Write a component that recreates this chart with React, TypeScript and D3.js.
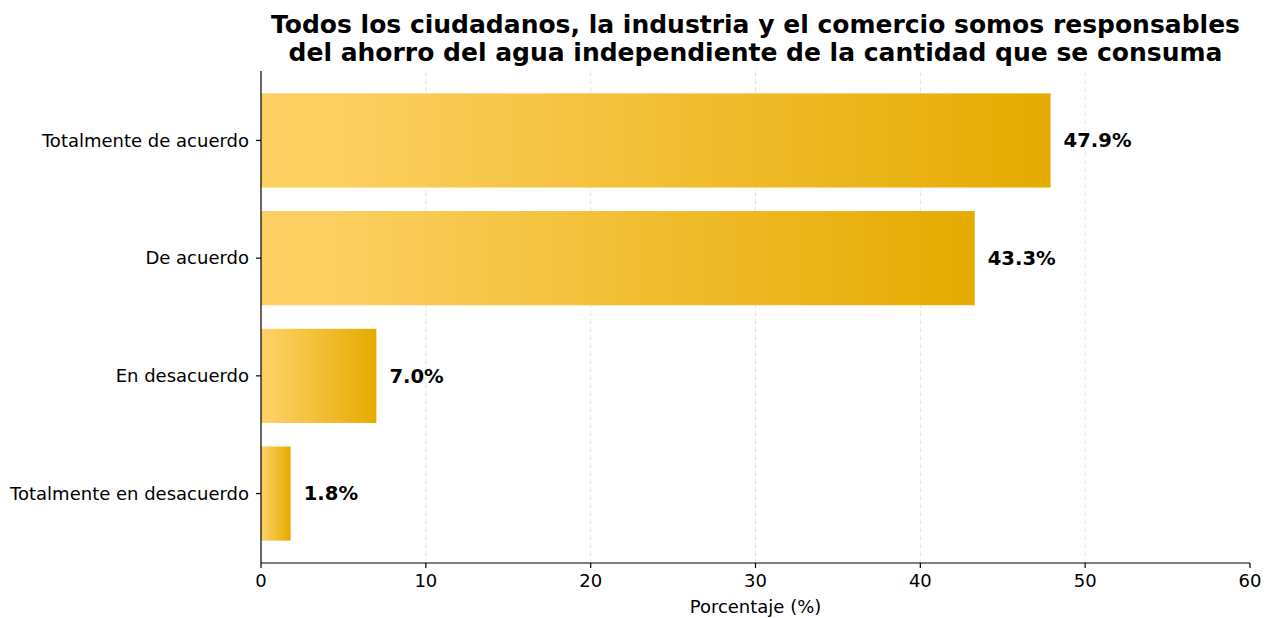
import React from "react";
import * as d3 from "d3";

const categories = [
  "Totalmente de acuerdo",
  "De acuerdo",
  "En desacuerdo",
  "Totalmente en desacuerdo",
];
const values = [47.9, 43.3, 7.0, 1.8];
const xTicks = [0, 10, 20, 30, 40, 50, 60];
const titleLines = [
  "Todos los ciudadanos, la industria y el comercio somos responsables",
  "del ahorro del agua independiente de la cantidad que se consuma",
];
const xLabel = "Porcentaje (%)";

const W = 1273;
const H = 618;
const left = 261;
const right = 1250;
const top = 71;
const bottom = 563;
const font = "'DejaVu Sans', sans-serif";

export default function App() {
  const x = d3.scaleLinear().domain([0, 60]).range([left, right]);
  const y = d3
    .scaleBand<string>()
    .domain(categories)
    .range([top, bottom])
    .paddingInner(0.2)
    .paddingOuter(0.19);

  return (
    <div>
      <style>{`body{margin:0}`}</style>
      <svg width={W} height={H} style={{ display: "block", fontFamily: font }}>
        <defs>
          <linearGradient id="barGrad" x1="0" x2="1" y1="0" y2="0">
            <stop offset="0%" stopColor="#FCCF62" />
            <stop offset="10%" stopColor="#FCCF60" />
            <stop offset="100%" stopColor="#E5AB00" />
          </linearGradient>
        </defs>
        <rect width={W} height={H} fill="#fff" />
        {xTicks
          .filter((t) => t > 0 && t < 60)
          .map((t) => (
            <line
              key={"g" + t}
              x1={x(t)}
              x2={x(t)}
              y1={top}
              y2={bottom}
              stroke="#b0b0b0"
              strokeOpacity={0.35}
              strokeWidth={1}
              strokeDasharray="5,3"
            />
          ))}
        {categories.map((c, i) => (
          <rect
            key={c}
            x={x(0)}
            y={y(c)}
            width={x(values[i]) - x(0)}
            height={y.bandwidth()}
            fill="url(#barGrad)"
          />
        ))}
        {categories.map((c, i) => (
          <text
            key={"l" + c}
            x={x(values[i]) + 13}
            y={(y(c) as number) + y.bandwidth() / 2}
            dy="0.35em"
            fontSize={19.6}
            fontWeight="bold"
            fill="#000"
          >
            {values[i].toFixed(1)}%
          </text>
        ))}
        <line x1={left} x2={left} y1={top} y2={bottom} stroke="#000" strokeWidth={1.2} />
        <line x1={left} x2={right} y1={bottom} y2={bottom} stroke="#000" strokeWidth={1.2} />
        {categories.map((c) => {
          const cy = (y(c) as number) + y.bandwidth() / 2;
          return (
            <g key={"yt" + c}>
              <line x1={left - 5} x2={left} y1={cy} y2={cy} stroke="#000" strokeWidth={1.2} />
              <text x={left - 12} y={cy} dy="0.35em" textAnchor="end" fontSize={18} fill="#000">
                {c}
              </text>
            </g>
          );
        })}
        {xTicks.map((t) => (
          <g key={"xt" + t}>
            <line x1={x(t)} x2={x(t)} y1={bottom} y2={bottom + 5} stroke="#000" strokeWidth={1.2} />
            <text x={x(t)} y={bottom + 18} dy="0.35em" textAnchor="middle" fontSize={18} fill="#000">
              {t}
            </text>
          </g>
        ))}
        <text x={(left + right) / 2} y={607} dy="0.35em" textAnchor="middle" fontSize={18} fill="#000">
          {xLabel}
        </text>
        {titleLines.map((l, i) => (
          <text
            key={"t" + i}
            x={(left + right) / 2}
            y={24 + i * 28.5}
            dy="0.35em"
            textAnchor="middle"
            fontSize={25}
            fontWeight="bold"
            fill="#000"
          >
            {l}
          </text>
        ))}
      </svg>
    </div>
  );
}
